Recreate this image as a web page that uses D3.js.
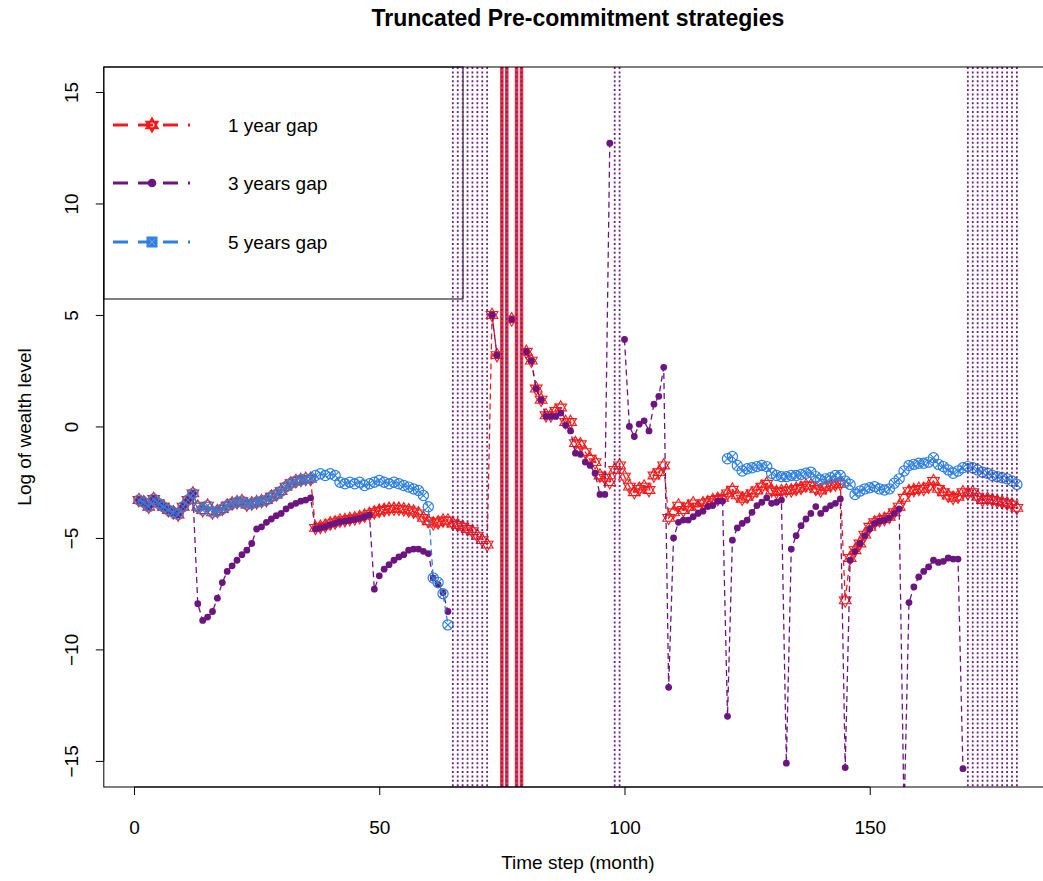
<!DOCTYPE html>
<html>
<head>
<meta charset="utf-8">
<script src="https://cdn.jsdelivr.net/npm/d3@7"></script>
<style>
    body { margin: 0; background: #fff; }
    text { font-family: "Liberation Sans", Arial, sans-serif; fill: #000; }
</style>
</head>
<body>
<div id="chart-area"></div>
<script>
// Data: each series is a list of [first month, values...] runs, breaks are missing months
var baseStart = [-3.3,-3.4,-3.6,-3.25,-3.45,-3.6,-3.75,-3.85,-3.95,-3.6,-3.3,-3.0,
    -3.6,-3.75,-3.55,-3.85,-3.8,-3.7,-3.55,-3.45,-3.4,-3.35,-3.5,-3.45,
    -3.4,-3.35,-3.3,-3.15,-3.05,-2.9,-2.7,-2.55,-2.45,-2.4,-2.35,-2.35];

var redRuns = [
    [1, baseStart.concat([-4.55,-4.5,-4.45,-4.35,-4.3,-4.22,-4.2,-4.15,-4.12,-4.07,-4.0,-3.92,
        -3.85,-3.78,-3.74,-3.7,-3.69,-3.69,-3.72,-3.76,-3.82,-3.9,-4.1,-4.25,
        -4.35,-4.3,-4.22,-4.22,-4.35,-4.42,-4.5,-4.6,-4.7,-4.9,-5.1,-5.3,
        5.0,3.2])],
    [77, [4.8]],
    [80, [3.35,2.95,1.7,1.2,0.5,0.5,0.7,0.85,0.2,0.2,-0.75,-0.8,-1.15,-1.45,-1.6,
        -2.2,-2.3,-2.5,-1.95,-1.75,-2.25,-2.7,-2.95,-2.8,-2.7,-2.85,-2.2,-2.05,-1.75,
        -4.1,-3.85,-3.55,-3.75,-3.6,-3.45,-3.6,-3.45,-3.4,-3.3,-3.25,-3.2,
        -3.0,-2.84,-3.09,-3.24,-3.15,-3.0,-2.87,-2.7,-2.57,-2.87,-2.94,-2.9,
        -2.87,-2.87,-2.8,-2.75,-2.65,-2.65,-2.8,-2.87,-2.72,-2.65,-2.6,-2.57,
        -7.8,-5.9,-5.55,-5.25,-4.85,-4.5,-4.3,-4.2,-4.15,-4.05,-3.85,-3.6,
        -3.2,-2.9,-2.85,-2.8,-2.8,-2.7,-2.45,-2.8,-2.95,-3.1,-3.2,-3.15,
        -2.95,-3.0,-2.95,-3.15,-3.3,-3.25,-3.3,-3.35,-3.4,-3.45,-3.5,-3.65]]
];

var purpleRuns = [
    [1, baseStart.slice(0, 12).concat([
        -7.95,-8.7,-8.55,-8.3,-7.7,-7.0,-6.5,-6.25,-6.0,-5.75,-5.55,-5.25,
        -4.6,-4.5,-4.3,-4.15,-4.0,-3.9,-3.7,-3.55,-3.45,-3.35,-3.3,-3.2,
        -4.6,-4.55,-4.5,-4.4,-4.35,-4.27,-4.25,-4.2,-4.17,-4.12,-4.05,-3.97,
        -7.3,-6.7,-6.4,-6.2,-6.0,-5.85,-5.75,-5.55,-5.5,-5.5,-5.6,-5.7,
        -6.8,-7.1,-7.45,-8.3])],
    [73, [5.0, 3.2]],
    [77, [4.8]],
    [80, [3.35,2.95,1.7,1.2,0.45,0.45,0.45,0.6,0.05,-0.2,-1.2,-1.25,-1.6,-1.75,-2.1,
        -3.05,-3.05,12.7]],
    [100, [3.9,0.0,-0.45,0.1,0.25,-0.2,1.0,1.35,2.65,
        -11.7,-5.0,-4.3,-4.2,-4.2,-4.05,-3.9,-3.8,-3.6,-3.55,-3.35,-3.35,
        -13.0,-5.1,-4.55,-4.35,-4.2,-3.85,-3.55,-3.4,-3.2,-3.45,-3.4,-3.3,
        -15.1,-5.5,-4.9,-4.45,-4.15,-3.9,-3.6,-3.9,-3.7,-3.55,-3.45,-3.25,
        -15.3,-6.0,-5.6,-5.25,-4.9,-4.6,-4.35,-4.25,-4.2,-4.1,-3.9,-3.7,
        -17.5,-7.9,-7.2,-6.75,-6.5,-6.3,-6.0,-6.1,-6.05,-5.9,-5.95,-5.95,
        -15.35]]
];

var blueRuns = [
    [1, baseStart.concat([-2.2,-2.12,-2.2,-2.12,-2.2,-2.5,-2.57,-2.5,-2.57,-2.5,-2.65,-2.57,
        -2.5,-2.42,-2.5,-2.57,-2.5,-2.57,-2.65,-2.72,-2.8,-2.87,-3.1,-3.6,
        -6.8,-7.0,-7.5,-8.9])],
    [121, [-1.45,-1.35,-1.75,-2.0,-1.9,-1.85,-1.8,-1.75,-1.8,-2.1,-2.2,-2.25,
        -2.25,-2.2,-2.2,-2.15,-2.1,-2.05,-2.25,-2.4,-2.35,-2.3,-2.2,-2.2,
        -2.45,-2.6,-3.05,-2.9,-2.8,-2.75,-2.7,-2.8,-2.85,-2.8,-2.55,-2.35,
        -2.0,-1.75,-1.7,-1.65,-1.65,-1.6,-1.4,-1.7,-1.8,-1.95,-2.1,-2.0,
        -1.85,-1.8,-1.85,-1.95,-2.05,-2.1,-2.2,-2.25,-2.3,-2.35,-2.45,-2.6]]
];

// months marked by vertical lines
var dottedMonths = [65,66,67,68,69,70,71,72,98,99,170,171,172,173,174,175,176,177,178,179,180];
var solidMonths = [75,76,78,79];

var xTicks = [0, 50, 100, 150];
var yTicks = [-15, -10, -5, 0, 5, 10, 15];
var legendLabels = ["1 year gap", "3 years gap", "5 years gap"];

var colRed = "#f21b1b", colPurple = "#6c1580", colBlue = "#2f80de";

var W = 1043, H = 881;
var plot = { left: 103.8, right: 1052, top: 67, bottom: 787 };

var svg = d3.select("#chart-area").append("svg")
    .attr("width", W).attr("height", H);

var x = d3.scaleLinear().domain([-6.16, 187.16]).range([plot.left, plot.right]);
var y = d3.scaleLinear().domain([-16.17, 16.12]).range([plot.bottom, plot.top]);

svg.append("clipPath").attr("id", "clip")
    .append("rect")
    .attr("x", plot.left).attr("y", plot.top)
    .attr("width", plot.right - plot.left).attr("height", plot.bottom - plot.top);

function toPoints(runs) {
    return runs.map(function(r){
        return r[1].map(function(v, i){ return { t: r[0] + i, v: v }; });
    });
}

var line = d3.line().x(function(d){ return x(d.t); }).y(function(d){ return y(d.v); });

function starD(r) {
    var c = 0.866;
    return "M0," + (-r) + "L" + (r*c) + "," + (r/2) + "L" + (-r*c) + "," + (r/2) + "Z" +
        "M0," + r + "L" + (r*c) + "," + (-r/2) + "L" + (-r*c) + "," + (-r/2) + "Z";
}

var dataG = svg.append("g").attr("clip-path", "url(#clip)");

function drawSeries(runs, color, marker) {
    var segs = toPoints(runs);
    var g = dataG.append("g");
    g.selectAll("path.ln").data(segs).enter().append("path")
        .attr("class", "ln")
        .attr("d", line)
        .attr("fill", "none")
        .attr("stroke", color)
        .attr("stroke-width", 1.3)
        .attr("stroke-dasharray", "6,4");
    var pts = [].concat.apply([], segs);
    var m = g.selectAll("g.pt").data(pts).enter().append("g")
        .attr("class", "pt")
        .attr("transform", function(d){ return "translate(" + x(d.t) + "," + y(d.v) + ")"; });
    marker(m, color);
}

function starMarker(sel, color) {
    sel.append("path").attr("d", starD(6.8)).attr("fill", "none")
        .attr("stroke", color).attr("stroke-width", 1.1);
}
function dotMarker(sel, color) {
    sel.append("circle").attr("r", 3.4).attr("fill", color);
}
function crossCircleMarker(sel, color) {
    sel.append("circle").attr("r", 5.1).attr("fill", "none")
        .attr("stroke", color).attr("stroke-width", 1.2);
    sel.append("path").attr("d", "M-3.6,-3.6L3.6,3.6M-3.6,3.6L3.6,-3.6")
        .attr("stroke", color).attr("stroke-width", 1.1);
}

drawSeries(redRuns, colRed, starMarker);
drawSeries(purpleRuns, colPurple, dotMarker);
drawSeries(blueRuns, colBlue, crossCircleMarker);

// Legend (no fill, drawn before vertical lines)
var legend = svg.append("g");
legend.append("rect")
    .attr("x", plot.left).attr("y", plot.top)
    .attr("width", 463 - plot.left).attr("height", 299 - plot.top)
    .attr("fill", "none").attr("stroke", "#000").attr("stroke-width", 1);
var legendCols = [colRed, colPurple, colBlue];
var legendY = [125, 183, 242];
legendLabels.forEach(function(lab, i){
    legend.append("line")
        .attr("x1", 113).attr("x2", 190)
        .attr("y1", legendY[i]).attr("y2", legendY[i])
        .attr("stroke", legendCols[i]).attr("stroke-width", 3)
        .attr("stroke-dasharray", "15,10");
    var m = legend.append("g").attr("transform", "translate(152," + legendY[i] + ")");
    if (i === 0) {
        m.append("path").attr("d", starD(6.5)).attr("fill", colRed)
            .attr("stroke", colRed).attr("stroke-width", 2);
    } else if (i === 1) {
        m.append("circle").attr("r", 4.3).attr("fill", colPurple);
    } else {
        m.append("rect").attr("x", -5.5).attr("y", -5.5).attr("width", 11).attr("height", 11)
            .attr("fill", colBlue);
        m.append("path").attr("d", "M-3.5,-3.5L3.5,3.5M-3.5,3.5L3.5,-3.5")
            .attr("stroke", "#6fa6ec").attr("stroke-width", 1);
    }
    legend.append("text")
        .attr("x", 228).attr("y", legendY[i])
        .attr("dominant-baseline", "central")
        .attr("font-size", "19px")
        .text(lab);
});

// Vertical marker lines
var vG = svg.append("g").attr("clip-path", "url(#clip)");
vG.selectAll("line.sol").data(solidMonths).enter().append("line")
    .attr("class", "sol")
    .attr("x1", function(d){ return x(d); }).attr("x2", function(d){ return x(d); })
    .attr("y1", plot.top).attr("y2", plot.bottom)
    .attr("stroke", "#ee3340").attr("stroke-width", 3.6);
vG.selectAll("line.dot").data(dottedMonths.concat(solidMonths)).enter().append("line")
    .attr("class", "dot")
    .attr("x1", function(d){ return x(d); }).attr("x2", function(d){ return x(d); })
    .attr("y1", plot.top).attr("y2", plot.bottom)
    .attr("stroke", "#6e2082").attr("stroke-width", 1.8)
    .attr("stroke-dasharray", "2,2.4");

// Plot frame
svg.append("rect")
    .attr("x", plot.left).attr("y", plot.top)
    .attr("width", plot.right - plot.left).attr("height", plot.bottom - plot.top)
    .attr("fill", "none").attr("stroke", "#000").attr("stroke-width", 1);

// X axis
var xAxisGroup = svg.append("g").attr("transform", "translate(0," + plot.bottom + ")")
    .call(d3.axisBottom(x).tickValues(xTicks).tickSize(8).tickPadding(0));
xAxisGroup.select(".domain").remove();
xAxisGroup.append("line").attr("x1", x(0)).attr("x2", x(150))
    .attr("stroke", "#000");
xAxisGroup.selectAll("text")
    .attr("font-size", "19px").attr("font-family", "Liberation Sans, Arial, sans-serif")
    .attr("fill", "#000").attr("y", 40).attr("dy", null)
    .attr("dominant-baseline", "central");

// Y axis
var yAxisGroup = svg.append("g").attr("transform", "translate(" + plot.left + ",0)")
    .call(d3.axisLeft(y).tickValues(yTicks).tickSize(8));
yAxisGroup.select(".domain").remove();
yAxisGroup.append("line").attr("y1", y(-15)).attr("y2", y(15))
    .attr("stroke", "#000");
yAxisGroup.selectAll("text")
    .attr("font-size", "19px").attr("font-family", "Liberation Sans, Arial, sans-serif")
    .attr("fill", "#000")
    .attr("x", null).attr("dy", null)
    .attr("text-anchor", "middle")
    .attr("dominant-baseline", "central")
    .attr("transform", "translate(-32,0) rotate(-90)");

// Labels
svg.append("text")
    .attr("x", (plot.left + plot.right) / 2).attr("y", 26)
    .attr("text-anchor", "middle")
    .attr("font-size", "23px").attr("font-weight", "bold")
    .text("Truncated Pre-commitment strategies");

svg.append("text")
    .attr("x", (plot.left + plot.right) / 2).attr("y", 869)
    .attr("text-anchor", "middle")
    .attr("font-size", "19px")
    .text("Time step (month)");

svg.append("text")
    .attr("transform", "translate(24," + ((plot.top + plot.bottom) / 2) + ") rotate(-90)")
    .attr("text-anchor", "middle")
    .attr("dominant-baseline", "central")
    .attr("font-size", "19px")
    .text("Log of wealth level");
</script>
</body>
</html>
